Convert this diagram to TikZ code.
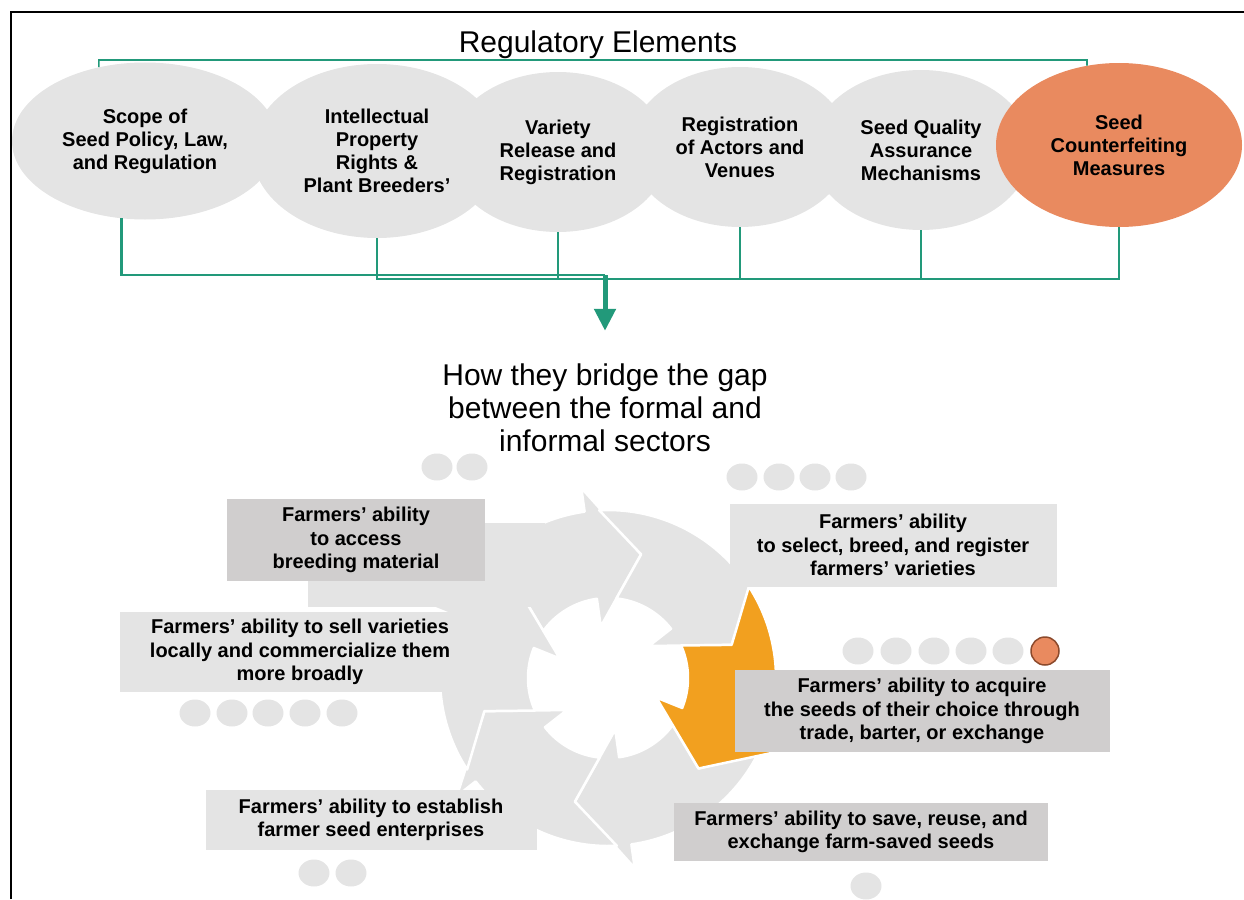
\documentclass[tikz,border=0pt]{standalone}
\usepackage{fontspec}
\setmainfont{Liberation Sans}
\usepackage{tikz}
\usetikzlibrary{arrows.meta,shapes,positioning,calc}
\definecolor{lgrey}{HTML}{E4E4E4}
\definecolor{dgrey}{HTML}{D0CECE}
\definecolor{teal1}{HTML}{22997A}
\definecolor{peach}{HTML}{E98A5F}
\definecolor{amber}{HTML}{F2A01F}
\definecolor{rust}{HTML}{8C4A2C}
\tikzstyle{elem}     = [ellipse, fill=lgrey, align=center, inner sep=0pt, font=\bfseries\fontsize{20}{23}\selectfont]
\tikzstyle{lbox}     = [rectangle, fill=lgrey, align=center, inner sep=0pt, font=\bfseries\fontsize{20}{23.5}\selectfont]
\tikzstyle{dbox}     = [lbox, fill=dgrey]
\tikzstyle{link}     = [teal1, line width=2.5pt]
\tikzstyle{busarrow} = [teal1, line width=5pt, -{Triangle[length=22pt,width=21pt]}]
\tikzstyle{bigtext}  = [font=\fontsize{30}{33}\selectfont, align=center, inner sep=0pt]

\begin{document}
\begin{tikzpicture}[x=1pt, y=-1pt]
        \useasboundingbox (0,0) rectangle (1244,899);
        \draw[line width=2pt] (11,899) -- (11,12) -- (1244,12);
        \node[bigtext] (T0) at (598,45) {Regulatory Elements};

        % the six regulatory elements
        \node[elem, minimum width=266pt, minimum height=157pt] (E1) at (145,141) {Scope of\\Seed Policy, Law,\\and Regulation};
        \node[elem, minimum width=250pt, minimum height=174pt] (E2) at (377,151) {Intellectual\\Property\\Rights \&\\Plant Breeders’};
        \node[elem, minimum width=220pt, minimum height=160pt] (E3) at (558,152) {Variety\\Release and\\Registration};
        \node[elem, minimum width=220pt, minimum height=160pt] (E4) at (740,147) {Registration\\of Actors and\\Venues};
        \node[elem, minimum width=220pt, minimum height=160pt] (E5) at (921,150) {Seed Quality\\Assurance\\Mechanisms};
        \node[elem, fill=peach, minimum width=246pt, minimum height=164pt] (E6) at (1119,145) {Seed\\Counterfeiting\\Measures};

        \coordinate (R0) at (1087,60);
        \draw[link, line width=1.6pt] (E1.122) |- (R0) -- (E6.112);

        \coordinate (J1) at (605,275);
        \coordinate (J2) at (605,279);
        \draw[link] (E1.-107) |- (J1);
        \draw[link] (E2.south) |- (J2) -| (E6.south);
        \foreach \n in {3,4,5}
        {
            \draw[link] (E\n.south) -- (E\n.south |- J2);
        }

        \node[bigtext] (H) at (605,408) {How they bridge the gap\\between the formal and\\informal sectors};
        \coordinate[above=33pt of H] (A1);
        \draw[busarrow] (J1) -- (A1);

        % circular arrows
        \begin{scope}[shift={(608,678)}, y=1pt]
            \foreach \b/\c in {98/lgrey,38/lgrey,-82/lgrey,-142/lgrey,158/lgrey,-22/amber}
            {
                \filldraw[fill=\c, draw=white, line width=2.5pt, line join=round]
                    ({\b+55}:168) arc[start angle=\b+55, end angle=\b, radius=168]
                    -- (\b:192) -- ({\b-23}:128) -- (\b:52) -- (\b:80)
                    arc[start angle=\b, end angle=\b+46, radius=80] -- ({\b+37}:128) -- cycle;
            }
        \end{scope}
        \fill[lgrey] (308,523) rectangle (545,607);

        % farmers' abilities
        \node[dbox, minimum width=258pt, minimum height=82pt] (B1) at (356,540) {Farmers’ ability\\to access\\breeding material};
        \node[lbox, minimum width=327pt, minimum height=83pt] (B2) at (893,545) {Farmers’ ability\\to select, breed, and register\\farmers’ varieties};
        \node[lbox, minimum width=360pt, minimum height=80pt] (B3) at (300,652) {Farmers’ ability to sell varieties\\locally and commercialize them\\more broadly};
        \node[dbox, minimum width=375pt, minimum height=82pt] (B4) at (922,711) {Farmers’ ability to acquire\\the seeds of their choice through\\trade, barter, or exchange};
        \node[lbox, minimum width=331pt, minimum height=60pt] (B5) at (371,820) {Farmers’ ability to establish\\farmer seed enterprises};
        \node[dbox, minimum width=374pt, minimum height=58pt] (B6) at (861,832) {Farmers’ ability to save, reuse, and\\exchange farm-saved seeds};

        % dots
        \foreach \x in {437,472}
            \fill[lgrey] (\x,467) ellipse [x radius=15.5, y radius=13.5];
        \foreach \x in {742,779,815,851}
            \fill[lgrey] (\x,477) ellipse [x radius=15.5, y radius=13.5];
        \foreach \x in {858,896,934,971,1008}
            \fill[lgrey] (\x,651) ellipse [x radius=15.5, y radius=13.5];
        \filldraw[fill=peach, draw=rust, line width=1.5pt] (1045,651) circle [radius=14];
        \foreach \x in {195,232,268,305,342}
            \fill[lgrey] (\x,713) ellipse [x radius=15.5, y radius=13.5];
        \foreach \x in {314,351}
            \fill[lgrey] (\x,873) ellipse [x radius=15.5, y radius=13.5];
        \fill[lgrey] (866,886) ellipse [x radius=15.5, y radius=13.5];
\end{tikzpicture}
\end{document}
